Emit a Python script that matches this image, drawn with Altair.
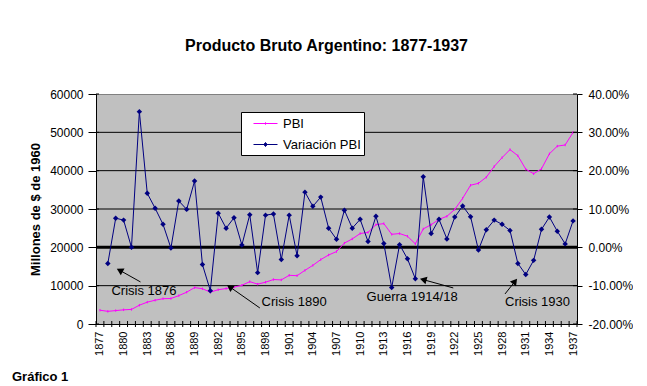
import altair as alt
import pandas as pd

FONT = "Liberation Sans"

# ---------------- data ----------------
years = list(range(1877, 1938))
pbi = [3600, 3300, 3500, 3700, 3800, 4900, 5700, 6200, 6600, 6650,
       7400, 8300, 9500, 9200, 8300, 8950, 9250, 9600, 10100, 11050,
       10400, 10900, 11600, 11500, 12700, 12600, 14000, 15300, 16800, 18000,
       18900, 21100, 22200, 23600, 23900, 25900, 26200, 23400, 23600, 22900,
       20900, 24800, 25900, 27300, 28100, 29900, 32800, 36200, 36700, 38300,
       41100, 43400, 45500, 43900, 40400, 39200, 40500, 44400, 46400, 46700,
       50000]

var_years = list(range(1878, 1938))
variacion_pct = [-4.2, 7.6, 7.1, 0.0, 35.4, 14.1, 10.2, 6.0, -0.2, 12.1,
                 9.9, 17.3, -4.5, -11.3, 8.9, 5.0, 7.7, 0.6, 8.5, -6.6,
                 8.4, 8.7, -3.2, 8.4, -2.2, 14.4, 10.7, 13.1, 5.0, 2.1,
                 9.7, 5.0, 7.3, 1.5, 8.1, 1.0, -10.5, 0.7, -3.0, -8.2,
                 18.4, 3.6, 7.3, 2.2, 7.9, 10.8, 8.0, -0.7, 4.6, 7.1,
                 6.0, 4.4, -4.2, -7.1, -3.4, 4.7, 7.9, 4.2, 0.9, 6.9]

label_years = list(range(1877, 1938, 3))
left_ticks = [0, 10000, 20000, 30000, 40000, 50000, 60000]
grid_values = [10000, 20000, 30000, 40000, 50000]
grid_widths = [1, 3, 1, 1, 1]
right_ticks = [-0.2, -0.1, 0.0, 0.1, 0.2, 0.3, 0.4]
category_edges = [y - 0.5 for y in years] + [1937.5]

series = ["PBI", "Variación PBI"]
series_colors = ["#FF00FF", "#000080"]

ann_text = ["Crisis 1876", "Crisis 1890", "Guerra 1914/18", "Crisis 1930"]
ann_x = [1878.46, 1897.5, 1910.82, 1928.37]
ann_y = [8571, 5644, 7055, 5644]
arrow_tail_x = [1882.14, 1897.28, 1921.81, 1928.37]
arrow_tail_y = [10975, 4181, 9407, 7839]
arrow_head_x = [1879.51, 1893.47, 1918.0, 1929.64]
arrow_head_y = [14006, 9668, 11576, 11131]
arrow_angle = [299, 305, 285, 38]

# ---------------- tables ----------------
pbi_df = pd.DataFrame({"year": years, "pbi": pbi})
var_df = pd.DataFrame({"year": var_years, "var": [v / 100 for v in variacion_pct]})
ann_df = pd.DataFrame({"x": ann_x, "y": ann_y, "t": ann_text})
arr_df = pd.DataFrame({"tx": arrow_tail_x, "ty": arrow_tail_y,
                       "hx": arrow_head_x, "hy": arrow_head_y, "ang": arrow_angle})
leg_df = pd.DataFrame({"serie": series, "v": [None, None]})
grid_df = pd.DataFrame({"g": grid_values, "w": grid_widths})
edge_df = pd.DataFrame({"e": category_edges})
lt_df = pd.DataFrame({"t": left_ticks})
rt_df = pd.DataFrame({"t": right_ticks})


def xs():
    return alt.Scale(domain=[1876.5, 1937.5], nice=False, zero=False)


def yls():
    return alt.Scale(domain=[0, 60000], nice=False)


def yrs():
    return alt.Scale(domain=[-0.2, 0.4], nice=False, zero=False)


def xax():
    return alt.Axis(values=label_years, format="d", labelAngle=-90, ticks=False,
                    domainColor="black", labelFontSize=11, labelColor="black",
                    labelPadding=7, labelFlush=False, labelOverlap=False, grid=False,
                    title=None, orient="bottom", labelFont=FONT)


yl_axis = alt.Axis(values=left_ticks, format="d", grid=False,
                   domainColor="black", tickColor="black", tickSize=8,
                   labelPadding=5, labelFontSize=12, labelColor="black", labelFont=FONT,
                   title="Millones de $ de 1960", titleFontSize=13, titleFontWeight="bold",
                   titleFont=FONT, titleColor="black", titlePadding=7, orient="left")
yr_axis = alt.Axis(values=right_ticks, grid=False, orient="right",
                   labelExpr="replace(format(datum.value, '.2%'), '\u2212', '-')",
                   domainColor="black", tickColor="black", tickSize=5, labelPadding=6,
                   labelFontSize=12, labelColor="black", labelFont=FONT, title=None)

# ---------------- layers ----------------
grid_rules = alt.Chart(grid_df).mark_rule(color="black").encode(
    y=alt.Y("g:Q", scale=yls(), axis=yl_axis),
    strokeWidth=alt.StrokeWidth("w:Q", scale=None),
)
pbi_line = alt.Chart(pbi_df).mark_line(color="#FF00FF", strokeWidth=1).encode(
    x=alt.X("year:Q", scale=xs(), axis=xax()),
    y=alt.Y("pbi:Q", scale=yls(), axis=None),
)
edge_ticks = alt.Chart(edge_df).mark_rule(color="black", strokeWidth=1).encode(
    x=alt.X("e:Q", scale=xs(), axis=xax()),
    y=alt.value(227), y2=alt.value(233),
)
left_inner = alt.Chart(lt_df).mark_rule(color="black", strokeWidth=1).encode(
    y=alt.Y("t:Q", scale=yls(), axis=None),
    x=alt.value(0), x2=alt.value(3),
)
pbi_pts = alt.Chart(pbi_df).mark_point(shape="M0,-1L0,1", size=6, color="#FF00FF",
                                       strokeWidth=1, opacity=1).encode(
    x=alt.X("year:Q", scale=xs(), axis=xax()),
    y=alt.Y("pbi:Q", scale=yls(), axis=None),
)
arr_rules = alt.Chart(arr_df).mark_rule(color="black", strokeWidth=1).encode(
    x=alt.X("tx:Q", scale=xs(), axis=xax()), x2="hx:Q",
    y=alt.Y("ty:Q", scale=yls(), axis=None), y2="hy:Q",
)
arr_heads = alt.Chart(arr_df).mark_point(shape="triangle-up", filled=True, color="black",
                                         size=60, opacity=1).encode(
    x=alt.X("hx:Q", scale=xs(), axis=xax()),
    y=alt.Y("hy:Q", scale=yls(), axis=None),
    angle=alt.Angle("ang:Q", scale=None),
)
ann_txt = alt.Chart(ann_df).mark_text(align="left", baseline="middle", fontSize=13,
                                      font=FONT, color="black").encode(
    x=alt.X("x:Q", scale=xs(), axis=xax()),
    y=alt.Y("y:Q", scale=yls(), axis=None),
    text="t:N",
)

leg = alt.Legend(orient="none", legendX=145, legendY=18, title=None,
                 fillColor="white", strokeColor="black", padding=3,
                 labelFontSize=13, labelFont=FONT, labelColor="black",
                 symbolSize=256, symbolStrokeWidth=1, symbolOffset=13,
                 labelOffset=9, rowPadding=5.0, labelExpr="datum.label + '     '")
shape_paths = ["M-1.5,0L1.5,0M0,-0.15L0,0.15",
               "M-1.5,0L1.5,0M0,-0.25L0.2,0L0,0.25L-0.2,0Z"]
legend_layer = alt.Chart(leg_df).mark_point(filled=True, strokeWidth=1, opacity=1).encode(
    x=alt.X("v:Q", scale=xs(), axis=xax()),
    stroke=alt.Stroke("serie:N", scale=alt.Scale(domain=series, range=series_colors), legend=leg),
    fill=alt.Fill("serie:N", scale=alt.Scale(domain=series, range=series_colors), legend=leg),
    shape=alt.Shape("serie:N", scale=alt.Scale(domain=series, range=shape_paths), legend=leg),
)
grafico = alt.Chart(pd.DataFrame({"a": [0]})).mark_text(
    text="Gráfico 1", align="left", baseline="alphabetic", fontSize=13,
    fontWeight="bold", font=FONT, color="black").encode(
    x=alt.value(-84), y=alt.value(287))

var_line = alt.Chart(var_df).mark_line(color="#000080", strokeWidth=1).encode(
    x=alt.X("year:Q", scale=xs(), axis=xax()),
    y=alt.Y("var:Q", scale=yrs(), axis=yr_axis),
)
right_inner = alt.Chart(rt_df).mark_rule(color="black", strokeWidth=1).encode(
    y=alt.Y("t:Q", scale=yrs(), axis=None),
    x=alt.value(477), x2=alt.value(481),
)
var_pts = alt.Chart(var_df).mark_point(shape="diamond", filled=True, size=30,
                                       color="#000080", opacity=1).encode(
    x=alt.X("year:Q", scale=xs(), axis=xax()),
    y=alt.Y("var:Q", scale=yrs(), axis=None),
)

chart = alt.layer(
    grid_rules, pbi_line, edge_ticks, left_inner, pbi_pts, arr_rules, arr_heads,
    ann_txt, legend_layer, grafico, var_line, right_inner, var_pts,
).resolve_scale(
    y="independent"
).properties(
    width=481, height=230,
    title=alt.TitleParams("Producto Bruto Argentino: 1877-1937", fontSize=16,
                          fontWeight="bold", font=FONT, color="black",
                          offset=34, dx=-10, anchor="middle"),
    padding={"left": 4, "top": 30, "right": 0, "bottom": 0},
    background="white",
).configure_view(
    fill="#C0C0C0", stroke="#808080", strokeWidth=1
).configure_axisX(labelOverlap=False)

chart.save("out.html", embed_options={"renderer": "svg", "actions": False})
